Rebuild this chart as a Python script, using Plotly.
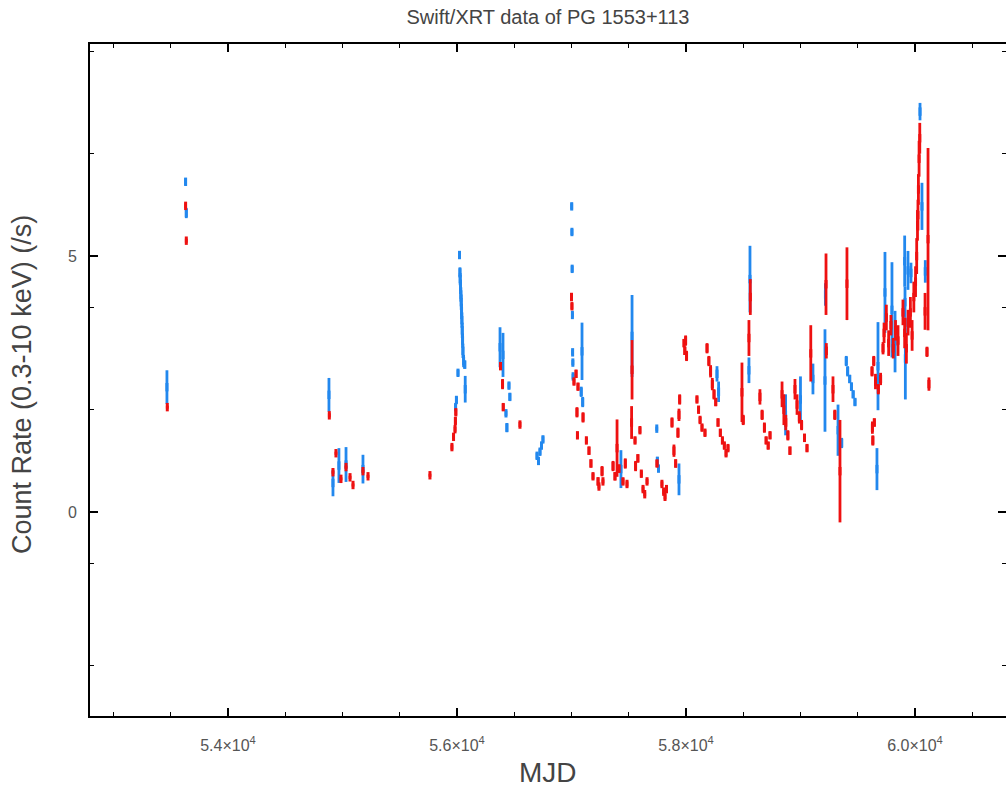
import plotly.graph_objects as go

# ---------------- data ----------------
blue_mjd = [53467, 53630, 53636, 54882, 54917, 54969, 55031, 55179,
            55995, 55988, 56009, 56022, 56026, 56028, 56031, 56034, 56037, 56040, 56043,
            56046, 56049, 56052, 56058, 56068, 56072,
            56376, 56402, 56428, 56436, 56454, 56462,
            56699, 56712, 56725, 56738, 56751,
            57002, 57004, 57006, 57008, 57010, 57012, 57014, 57092, 57085, 57098,
            57432, 57529, 57745, 57750, 57760, 57939,
            58271, 58285, 58550, 58559, 58870, 59000, 59109, 59214, 59218, 59328, 59360,
            59400, 59412, 59430, 59445, 59460, 59476,
            59668, 59677, 59738, 59799, 59826, 59910, 59913, 59916, 59939, 59965,
            60044, 60061, 60090]
blue_rate = [2.44, 6.45, 5.84, 2.29, 0.57, 0.91, 0.93, 0.84,
             2.19, 2.05, 2.72, 5.02, 4.68, 4.55, 4.40, 4.25, 4.10, 3.92, 3.75,
             3.55, 3.35, 3.15, 2.95, 2.88, 2.40,
             3.22, 3.07, 1.93, 1.65, 2.47, 2.25,
             1.10, 1.00, 1.18, 1.30, 1.42,
             5.97, 5.47, 4.75, 3.85, 3.12, 2.92, 2.65, 3.14, 2.35, 2.15,
             0.84, 3.44, 1.63, 1.00, 0.85, 0.64,
             2.70, 2.35, 2.77, 4.55, 1.90, 2.20, 2.60, 2.57, 4.25, 1.60, 1.35,
             2.95, 2.75, 2.60, 2.45, 2.30, 2.15,
             0.84, 2.85, 4.29, 3.95, 3.33, 4.90, 4.10, 3.00, 4.72, 4.67,
             7.82, 5.97, 4.70]
blue_err = [0.33, 0.07, 0.10, 0.33, 0.26, 0.34, 0.34, 0.28,
            0.06, 0.06, 0.06, 0.07, 0.10, 0.12, 0.14, 0.14, 0.15, 0.15, 0.15,
            0.15, 0.14, 0.14, 0.12, 0.08, 0.26,
            0.39, 0.43, 0.05, 0.09, 0.06, 0.07,
            0.06, 0.06, 0.06, 0.06, 0.06,
            0.06, 0.06, 0.06, 0.05, 0.05, 0.05, 0.05, 0.56, 0.10, 0.10,
            0.37, 0.80, 0.04, 0.08, 0.06, 0.31,
            0.15, 0.20, 0.25, 0.65, 0.40, 0.45, 0.30, 1.00, 0.22, 0.50, 0.10,
            0.10, 0.10, 0.08, 0.08, 0.07, 0.07,
            0.41, 0.86, 0.79, 0.93, 0.60, 0.50, 0.30, 0.80, 0.38, 0.20,
            0.17, 0.46, 0.22]

red_mjd = [53470, 53630, 53636, 54885, 54917, 54943, 54987, 55031, 55066, 55092, 55179, 55223, 55764,
           55990, 55986, 55983, 55970, 55956,
           56380, 56398, 56404, 56550,
           57000, 57004, 57022, 57040, 57057, 57048, 57101, 57052, 57130, 57153, 57170, 57188,
           57232, 57267, 57240, 57275,
           57363, 57380, 57398, 57415, 57450, 57470, 57485, 57529, 57525, 57555, 57598,
           57560, 57580, 57610, 57625, 57640, 57660,
           57747, 57790, 57805, 57817, 57830, 57878, 57895, 57910, 57939, 57945, 57930,
           57983, 57990, 57997, 58005,
           58096, 58110, 58123, 58140, 58166, 58184, 58200, 58215, 58230, 58245, 58260,
           58280, 58300, 58318, 58335, 58350, 58367, 58489, 58500, 58550, 58562,
           58646, 58665, 58685, 58700, 58718, 58734, 58839, 58855, 58872, 58890, 58908,
           58952, 58970, 58990, 59010, 59035, 59057, 59090, 59223, 59226, 59284, 59300,
           59345, 59406,
           59625, 59640, 59655, 59680, 59700, 59721, 59628, 59632, 59645,
           59730, 59750, 59770, 59790, 59810, 59830, 59852,
           59895, 59910, 59925, 59940, 59960, 59975, 59990, 60005,
           60015, 60022, 60030, 60036, 60042, 60026, 60114, 60088, 60105, 60122]
red_rate = [2.05, 5.98, 5.30, 1.89, 0.78, 1.15, 0.65, 0.88, 0.68, 0.53, 0.80, 0.70, 0.72,
            1.95, 1.78, 1.62, 1.47, 1.27,
            2.85, 2.50, 2.05, 1.71,
            4.20, 4.02, 2.55, 2.70, 2.45, 1.95, 1.85, 1.50, 1.40, 1.20, 0.95, 0.70,
            0.60, 0.80, 0.50, 0.60,
            0.90, 0.70, 1.25, 0.85, 0.60, 0.95, 0.55, 2.78, 1.75, 1.40, 1.60,
            0.90, 1.05, 0.75, 0.45, 0.35, 0.60,
            0.95, 0.55, 0.40, 0.30, 0.45, 1.75, 1.20, 0.95, 1.90, 2.20, 1.55,
            3.30, 3.15, 3.35, 3.05,
            2.20, 2.00, 1.80, 1.65, 1.55, 3.20, 2.95, 2.75, 2.50, 2.30, 2.15,
            1.75, 1.55, 1.40, 1.30, 1.15, 1.25, 2.34, 1.80, 3.40, 4.20,
            2.25, 1.90, 1.65, 1.40, 1.30, 1.50, 2.30, 2.00, 1.75, 1.50, 1.20,
            2.40, 2.10, 1.85, 1.70, 1.45, 1.25, 3.10, 4.45, 3.15, 2.40, 1.90,
            0.80, 4.46,
            2.75, 2.95, 2.55, 2.40, 2.60, 3.20, 1.65, 1.40, 1.75,
            3.50, 3.80, 3.30, 3.65, 3.20, 3.55, 3.35,
            3.90, 3.50, 3.20, 3.70, 3.90, 3.45, 4.20, 4.50,
            5.00, 5.60, 6.30, 6.90, 7.30, 5.80, 5.33, 3.92, 3.13, 2.50]
red_err = [0.03, 0.05, 0.04, 0.04, 0.03, 0.03, 0.03, 0.03, 0.03, 0.03, 0.03, 0.03, 0.03,
           0.06, 0.07, 0.05, 0.05, 0.05,
           0.05, 0.10, 0.07, 0.05,
           0.08, 0.06, 0.06, 0.08, 0.07, 0.10, 0.10, 0.06, 0.06, 0.08, 0.08, 0.06,
           0.08, 0.10, 0.04, 0.04,
           0.10, 0.08, 0.56, 0.08, 0.06, 0.10, 0.05, 0.58, 0.32, 0.06, 0.06,
           0.10, 0.08, 0.06, 0.05, 0.04, 0.05,
           0.07, 0.05, 0.05, 0.05, 0.05, 0.10, 0.12, 0.08, 0.12, 0.10, 0.10,
           0.08, 0.08, 0.10, 0.10,
           0.06, 0.06, 0.06, 0.06, 0.06, 0.10, 0.10, 0.12, 0.12, 0.10, 0.08,
           0.08, 0.07, 0.06, 0.06, 0.06, 0.06, 0.58, 0.10, 0.35, 0.35,
           0.15, 0.10, 0.10, 0.07, 0.07, 0.07, 0.25, 0.30, 0.15, 0.10, 0.08,
           0.20, 0.20, 0.12, 0.10, 0.08, 0.07, 0.55, 0.60, 0.15, 0.25, 0.10,
           1.00, 0.71,
           0.10, 0.10, 0.15, 0.10, 0.12, 0.12, 0.12, 0.10, 0.08,
           0.20, 0.25, 0.25, 0.20, 0.20, 0.20, 0.30,
           0.25, 0.30, 0.30, 0.25, 0.30, 0.30, 0.30, 0.30,
           0.35, 0.30, 0.30, 0.35, 0.30, 0.30, 1.78, 0.36, 0.10, 0.13]

x_tick_vals = [54000, 56000, 58000, 60000]
x_tick_text = ["5.4×10<sup>4</sup>", "5.6×10<sup>4</sup>", "5.8×10<sup>4</sup>", "6.0×10<sup>4</sup>"]
y_tick_vals = [0, 5]
y_tick_text = ["0", "5"]
y_minor_vals = [-3, -1, 2, 4, 7, 9]
y_range = [-3.98, 9.14]

BLUE = "#2288ee"
RED = "#ee1111"
FONT = "Liberation Sans, Arial"
TXT = "#444444"

fig = go.Figure()
for xs, ys, es, col in [(blue_mjd, blue_rate, blue_err, BLUE), (red_mjd, red_rate, red_err, RED)]:
    fig.add_trace(go.Scatter(
        x=xs, y=ys, mode="markers",
        marker=dict(color=col, symbol="line-ns", size=6, line=dict(width=3, color=col)),
        error_y=dict(type="data", array=es, visible=True, thickness=2.8, width=0, color=col),
        showlegend=False, hoverinfo="x+y"))
# empty helper trace so the right-hand tick axis is drawn
fig.add_trace(go.Scatter(x=[], y=[], yaxis="y2", showlegend=False, hoverinfo="skip"))

tick_common = dict(ticks="inside", ticklen=8, tickwidth=1.5, tickcolor="black",
                   showgrid=False, zeroline=False)
tfont = dict(family=FONT, size=16, color="#555555")

fig.update_layout(
    width=1006, height=791,
    margin=dict(l=90, r=0, t=44, b=75),
    paper_bgcolor="white", plot_bgcolor="white",
    title=dict(text="Swift/XRT data of PG 1553+113", x=(90 + 458) / 1006, xanchor="center",
               y=1 - 17 / 791, yanchor="middle", yref="container",
               font=dict(family=FONT, size=20, color=TXT)),
    xaxis=dict(range=[52795, 60795], tickmode="array", tickvals=x_tick_vals, ticktext=x_tick_text,
               ticklabelstandoff=14, showline=True, linecolor="black", linewidth=2, mirror="ticks",
               tickfont=tfont,
               minor=dict(tickmode="linear", tick0=0, dtick=500, ticks="inside", ticklen=4,
                          tickwidth=1.2, tickcolor="black", showgrid=False),
               **tick_common),
    yaxis=dict(range=y_range, tickmode="array", tickvals=y_tick_vals, ticktext=y_tick_text,
               ticklabelstandoff=8, showline=True, linecolor="black", linewidth=2, mirror=False,
               tickfont=tfont,
               minor=dict(tickmode="array", tickvals=y_minor_vals, ticks="inside", ticklen=4,
                          tickwidth=1.2, tickcolor="black", showgrid=False),
               **tick_common),
    yaxis2=dict(range=y_range, overlaying="y", side="right", showline=False,
                tickmode="array", tickvals=y_tick_vals, showticklabels=False,
                minor=dict(tickmode="array", tickvals=y_minor_vals, ticks="inside", ticklen=4,
                           tickwidth=1.2, tickcolor="black", showgrid=False),
                **tick_common),
    annotations=[
        dict(text="MJD", xref="paper", yref="paper", x=0.5, y=(716 - 772) / 672,
             xanchor="center", yanchor="middle", showarrow=False,
             font=dict(family=FONT, size=28, color=TXT)),
        dict(text="Count Rate (0.3-10 keV) (/s)", xref="paper", yref="paper",
             x=(22 - 90) / 916, y=(716 - 385) / 672, textangle=-90,
             xanchor="center", yanchor="middle", showarrow=False,
             font=dict(family=FONT, size=27, color=TXT)),
    ],
)

fig.write_html("out.html", config={"displayModeBar": False})
